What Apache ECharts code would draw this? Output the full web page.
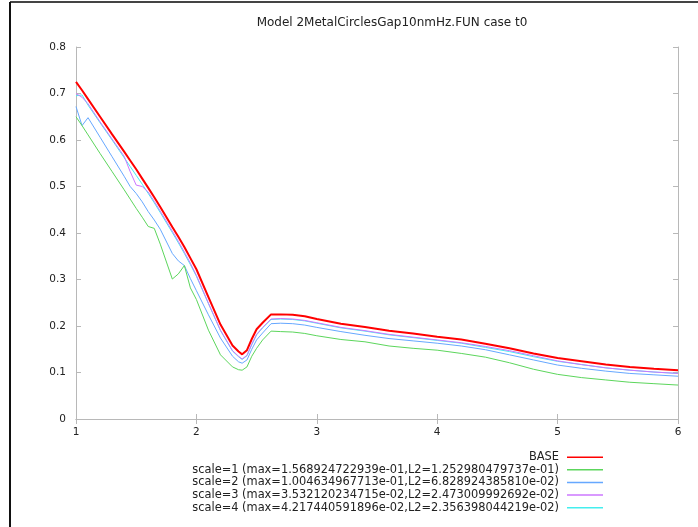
<!DOCTYPE html>
<html>
<head>
<meta charset="utf-8">
<script src="https://cdn.jsdelivr.net/npm/echarts@6/dist/echarts.min.js"></script>
<style>
  html, body { margin: 0; padding: 0; background: #fff; }
  #main { width: 698px; height: 527px; }
</style>
</head>
<body>
<div id="main"></div>
<script>
// x positions shared by all curves
const xs = [1.0, 1.05, 1.1, 1.2, 1.3, 1.4, 1.45, 1.5, 1.55, 1.6, 1.65, 1.7, 1.8, 1.85, 1.9, 1.95,
  2.0, 2.1, 2.2, 2.3, 2.35, 2.38, 2.42, 2.46, 2.5, 2.55, 2.62, 2.7, 2.8, 2.9, 3.0, 3.2, 3.4,
  3.6, 3.8, 4.0, 4.2, 4.4, 4.6, 4.8, 5.0, 5.2, 5.4, 5.6, 5.8, 6.0];

const base = [.725, .707, .688, .650, .612, .575, .556, .537, .517, .497, .477, .456, .413, .392, .370, .346,
  .322, .262, .203, .158, .145, .139, .148, .172, .193, .207, .225, .225, .224, .221, .215, .205, .198,
  .190, .184, .177, .171, .162, .152, .141, .131, .124, .117, .112, .108, .105];

const scale1 = [.650, .631, .611, .571, .532, .493, .473, .453, .434, .414, .410, .376, .301, .312, .330, .282,
  .257, .191, .138, .112, .106, .105, .112, .135, .152, .170, .189, .188, .187, .184, .179, .171, .166,
  .157, .152, .148, .141, .133, .121, .107, .096, .089, .084, .079, .076, .073];

const scale2 = [.672, .631, .648, .606, .564, .522, .500, .485, .467, .446, .428, .408, .356, .340, .330, .302,
  .276, .224, .174, .135, .123, .120, .127, .150, .170, .185, .205, .206, .205, .202, .197, .188, .180,
  .173, .168, .163, .157, .149, .138, .127, .116, .109, .103, .098, .095, .092];

const scale3 = [.700, .692, .678, .639, .602, .565, .532, .503, .500, .488, .468, .447, .404, .382, .359, .335,
  .309, .249, .191, .147, .135, .129, .137, .161, .182, .197, .215, .216, .215, .212, .207, .197, .190,
  .182, .176, .170, .164, .156, .147, .136, .125, .117, .110, .105, .101, .098];

const scale4 = [.695, .697, .675, .637, .600, .562, .543, .524, .505, .485, .465, .444, .401, .379, .356, .332,
  .307, .248, .190, .146, .134, .128, .136, .160, .181, .196, .214, .215, .214, .211, .206, .196, .189,
  .181, .175, .169, .163, .154, .145, .134, .124, .117, .110, .105, .101, .098];

const names = [
  'BASE',
  'scale=1 (max=1.568924722939e-01,L2=1.252980479737e-01)',
  'scale=2 (max=1.004634967713e-01,L2=6.828924385810e-02)',
  'scale=3 (max=3.532120234715e-02,L2=2.473009992692e-02)',
  'scale=4 (max=4.217440591896e-02,L2=2.356398044219e-02)'
];
const colors = ['#ff0000', '#5cd65c', '#66a8ff', '#cc77ff', '#44eeee'];
const values = [base, scale1, scale2, scale3, scale4];

const font = 'DejaVu Sans';
const gray = '#b8b8b8';

const myChart = echarts.init(document.getElementById('main'), null, { renderer: 'canvas' });

const series = values.map((vals, i) => ({
  name: names[i],
  type: 'line',
  data: xs.map((x, k) => [x, vals[k]]),
  showSymbol: false,
  symbol: 'none',
  lineStyle: { color: colors[i], width: i === 0 ? 2 : 1 },
  itemStyle: { color: colors[i] },
  z: i === 0 ? 10 : 5 - i
}));

// 每个图例单独一个，这样线段样本能在右侧对齐
const legends = names.map((n, i) => ({
  data: [n],
  right: 95,
  top: 451 + i * 12.6,
  padding: 0,
  align: 'right',
  icon: 'rect',
  itemWidth: 36,
  itemHeight: 1.5,
  selectedMode: false,
  textStyle: { fontFamily: font, fontSize: 11.4, color: '#222', lineHeight: 12.5, padding: [0, 3, 0, 0] }
}));

const axisCommon = {
  type: 'value',
  axisLine: { show: true, lineStyle: { color: gray, width: 1 } },
  axisTick: { show: true, inside: true, length: 5, lineStyle: { color: gray } },
  splitLine: { show: false }
};

const option = {
  animation: false,
  backgroundColor: '#fff',
  title: {
    text: 'Model 2MetalCirclesGap10nmHz.FUN case t0',
    left: 387,
    top: 12,
    textAlign: 'center',
    textStyle: { fontFamily: font, fontSize: 12, fontWeight: 'normal', color: '#222' }
  },
  legend: legends,
  grid: { left: 76, right: 20, top: 47, bottom: 108 },
  xAxis: [
    Object.assign({}, axisCommon, {
      min: 1, max: 6, interval: 1,
      axisLabel: { fontFamily: font, fontSize: 10.5, color: '#222', margin: 8 }
    }),
    Object.assign({}, axisCommon, {
      position: 'top', min: 1, max: 6, interval: 1,
      axisLabel: { show: false }
    })
  ],
  yAxis: [
    Object.assign({}, axisCommon, {
      min: 0, max: 0.8, interval: 0.1,
      axisLabel: { fontFamily: font, fontSize: 10.5, color: '#222', margin: 10 }
    }),
    Object.assign({}, axisCommon, {
      position: 'right', min: 0, max: 0.8, interval: 0.1,
      axisLabel: { show: false }
    })
  ],
  series: series,
  graphic: [
    { type: 'line', shape: { x1: 10, y1: 2, x2: 698, y2: 2 }, style: { stroke: '#444', lineWidth: 2 } },
    { type: 'line', shape: { x1: 10, y1: 2, x2: 10, y2: 527 }, style: { stroke: '#111', lineWidth: 2 } }
  ]
};

myChart.setOption(option);
</script>
</body>
</html>
